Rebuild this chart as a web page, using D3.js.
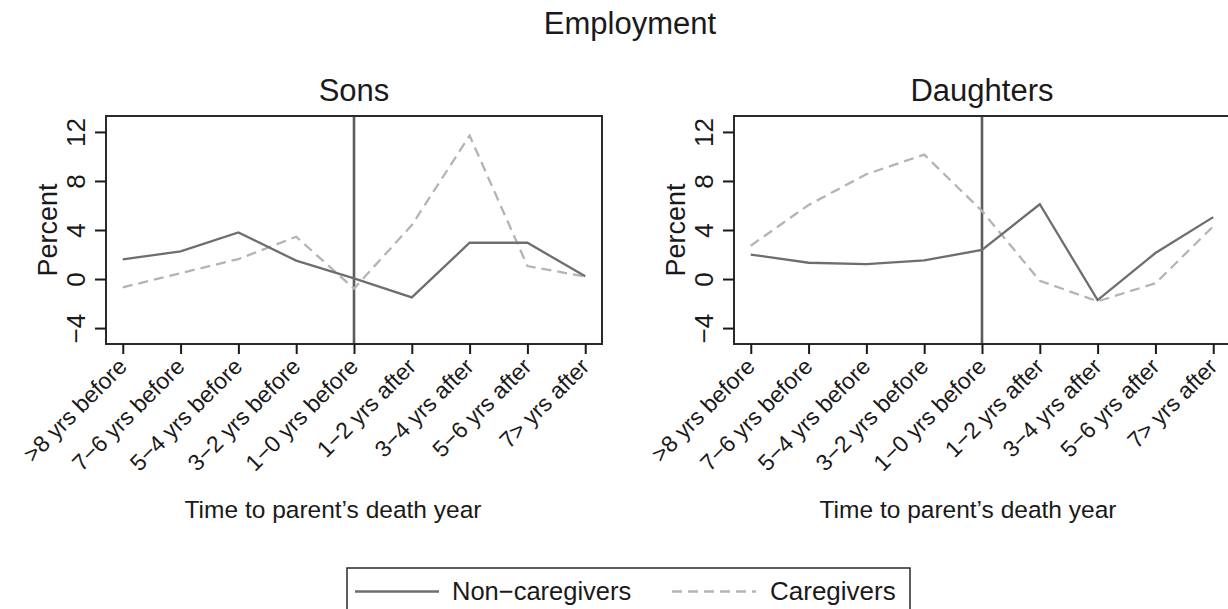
<!DOCTYPE html>
<html>
<head>
<meta charset="utf-8">
<script src="https://cdn.jsdelivr.net/npm/d3@7"></script>
<style>
html,body{margin:0;padding:0;background:#fff;}
svg{display:block;}
text{font-family:"Liberation Sans",Arial,Helvetica,sans-serif;fill:#1a1a1a;}
</style>
</head>
<body>
<svg id="chart" width="1228" height="609"></svg>
<script>
const categories = [">8 yrs before","7−6 yrs before","5−4 yrs before","3−2 yrs before","1−0 yrs before","1−2 yrs after","3−4 yrs after","5−6 yrs after","7> yrs after"];
const yTicks = [-4, 0, 4, 8, 12];
const sonsNonCaregivers = [1.6, 2.26, 3.8, 1.5, 0.05, -1.5, 2.96, 2.96, 0.22];
const sonsCaregivers = [-0.68, 0.48, 1.63, 3.45, -0.78, 4.4, 11.7, 1.06, 0.2];
const daughtersNonCaregivers = [2.0, 1.33, 1.22, 1.53, 2.37, 6.1, -1.72, 2.12, 5.05];
const daughtersCaregivers = [2.72, 6.04, 8.55, 10.15, 5.55, -0.14, -1.82, -0.35, 4.3];
const panelTitles = ["Sons", "Daughters"];
const seriesNames = ["Non−caregivers", "Caregivers"];
const deathIndex = 4;

(function(){
const svg = d3.select("#chart");
const fmt = d => (d < 0 ? "−" + Math.abs(d) : String(d));

svg.append("text").attr("x", 630).attr("y", 34).attr("text-anchor","middle")
  .style("font-size","31px").text("Employment");

const panels = [
  {title: panelTitles[0], non: sonsNonCaregivers, care: sonsCaregivers, left: 106, axisTitleX: 333},
  {title: panelTitles[1], non: daughtersNonCaregivers, care: daughtersCaregivers, left: 734, axisTitleX: 968}
];
const W = 496, pTop = 116, pBottom = 344;

panels.forEach(p => {
  const x = d3.scaleLinear().domain([-0.29, 8.29]).range([p.left, p.left + W]);
  const y = d3.scaleLinear().domain([-5.3, 13.3]).range([pBottom, pTop]);
  const g = svg.append("g");

  g.append("line").attr("x1", x(deathIndex)).attr("x2", x(deathIndex))
    .attr("y1", pTop).attr("y2", pBottom).attr("stroke","#5c5c5c").attr("stroke-width",2.6);

  const line = d3.line().x((d,i) => x(i)).y(d => y(d));
  g.append("path").datum(p.care).attr("d", line).attr("fill","none")
    .attr("stroke","#b4b4b4").attr("stroke-width",2.3).attr("stroke-dasharray","10,6");
  g.append("path").datum(p.non).attr("d", line).attr("fill","none")
    .attr("stroke","#6e6e6e").attr("stroke-width",2.3);

  g.append("rect").attr("x", p.left).attr("y", pTop).attr("width", W).attr("height", pBottom - pTop)
    .attr("fill","none").attr("stroke","#2a2a2a").attr("stroke-width",2);

  const ya = g.append("g").attr("transform", `translate(${p.left},0)`)
    .call(d3.axisLeft(y).tickValues(yTicks).tickSize(11).tickFormat(fmt));
  ya.select(".domain").remove();
  ya.selectAll(".tick line").attr("stroke","#1a1a1a").attr("stroke-width",2);
  ya.selectAll(".tick text")
    .attr("transform","rotate(-90)").attr("x",0).attr("y",-21).attr("dy",0)
    .attr("text-anchor","middle").style("font-size","26px").style("fill","#1a1a1a");

  const xa = g.append("g").attr("transform", `translate(0,${pBottom})`)
    .call(d3.axisBottom(x).tickValues(d3.range(categories.length)).tickSize(10)
      .tickFormat(i => categories[i]));
  xa.select(".domain").remove();
  xa.selectAll(".tick line").attr("stroke","#1a1a1a").attr("stroke-width",2);
  xa.selectAll(".tick text")
    .attr("text-anchor","end").attr("transform","translate(5,24) rotate(-45)")
    .attr("x",0).attr("y",0).attr("dy",0)
    .style("font-size","23px").style("fill","#1a1a1a");

  g.append("text").attr("x", p.left + W/2).attr("y", 101).attr("text-anchor","middle")
    .style("font-size","31px").text(p.title);
  g.append("text").attr("x", p.axisTitleX).attr("y", 518).attr("text-anchor","middle")
    .style("font-size","24.5px").text("Time to parent’s death year");
  g.append("text").attr("transform", `translate(${p.left - 49},${y(4)}) rotate(-90)`)
    .attr("text-anchor","middle").style("font-size","27px").text("Percent");
});

const lg = svg.append("g");
lg.append("rect").attr("x",347).attr("y",568).attr("width",563).attr("height",70)
  .attr("fill","none").attr("stroke","#2a2a2a").attr("stroke-width",1.5);
lg.append("line").attr("x1",355).attr("x2",439).attr("y1",591.5).attr("y2",591.5)
  .attr("stroke","#6e6e6e").attr("stroke-width",2.3);
lg.append("text").attr("x",452).attr("y",600).style("font-size","25.5px").text(seriesNames[0]);
lg.append("line").attr("x1",672).attr("x2",756).attr("y1",591.5).attr("y2",591.5)
  .attr("stroke","#b4b4b4").attr("stroke-width",2.3).attr("stroke-dasharray","10,6");
lg.append("text").attr("x",770).attr("y",600).style("font-size","26px").text(seriesNames[1]);
})();
</script>
</body>
</html>
